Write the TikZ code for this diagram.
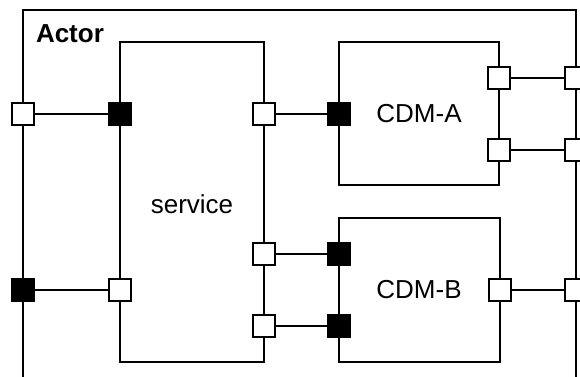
\documentclass[tikz,border=0pt]{standalone}
\usepackage{fontspec}
\setmainfont{Liberation Sans}
\begin{document}
\begin{tikzpicture}[x=0.5pt, y=-0.5pt, line width=1pt,
    every node/.style={font=\fontsize{13}{15}\selectfont}]

    % Styles
    \tikzstyle{part_box} = [draw=black, fill=white, inner sep=0pt, outer sep=0pt, anchor=north west]
    \tikzstyle{port_in} = [draw=black, fill=black, minimum size=11pt, inner sep=0pt, outer sep=0pt]
    \tikzstyle{port_out} = [draw=black, fill=white, minimum size=11pt, inner sep=0pt, outer sep=0pt]

    \clip (0,0) rectangle (580,376);
    \fill[white] (0,0) rectangle (580,376);

    % Actor frame (open at the bottom edge of the picture)
    \node[part_box, minimum width=276.5pt, minimum height=250pt] (actor) at (23,10) {};
    \node[font=\fontsize{13}{15}\selectfont\bfseries, anchor=base west, inner sep=0pt] (actorlabel) at (35,42) {Actor};

    % Parts
    \node[part_box, minimum width=72pt, minimum height=160pt] (service) at (120,42) {};
    \node (servicelabel) at (192,204) {service};
    \node[part_box, minimum width=80pt, minimum height=71.5pt] (cdma) at (339,42) {};
    \node (cdmalabel) at (419,114) {CDM-A};
    \node[part_box, minimum width=80.5pt, minimum height=72pt] (cdmb) at (339,218) {};
    \node (cdmblabel) at (419,290) {CDM-B};

    % Ports of Actor
    \node[port_out] (actL1) at (23,114) {};
    \node[port_in]  (actL2) at (23,290) {};
    \node[port_out] (actR1) at (576,78) {};
    \node[port_out] (actR2) at (576,150) {};
    \node[port_out] (actR3) at (576,290) {};

    % Ports of service
    \node[port_in]  (svcL1) at (120,114) {};
    \node[port_out] (svcL2) at (120,290) {};
    \node[port_out] (svcR1) at (264,114) {};
    \node[port_out] (svcR2) at (264,254) {};
    \node[port_out] (svcR3) at (264,326) {};

    % Ports of CDM-A and CDM-B
    \node[port_in]  (cdmaL1) at (339,114) {};
    \node[port_out] (cdmaR1) at (499,78) {};
    \node[port_out] (cdmaR2) at (499,150) {};
    \node[port_in]  (cdmbL1) at (339,254) {};
    \node[port_in]  (cdmbL2) at (339,326) {};
    \node[port_out] (cdmbR1) at (500,290) {};

    % Connectors
    \draw (actL1) -- (svcL1);
    \draw (actL2) -- (svcL2);
    \draw (svcR1) -- (cdmaL1);
    \draw (svcR2) -- (cdmbL1);
    \draw (svcR3) -- (cdmbL2);
    \draw (cdmaR1) -- (actR1);
    \draw (cdmaR2) -- (actR2);
    \draw (cdmbR1) -- (actR3);

\end{tikzpicture}
\end{document}
